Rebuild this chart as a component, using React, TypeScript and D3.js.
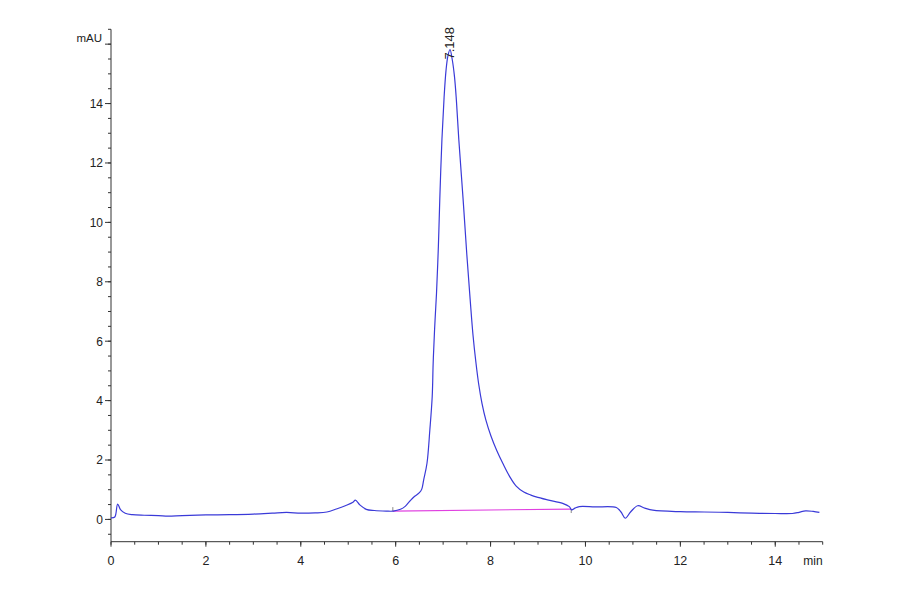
import React from "react";
import * as d3 from "d3";

const times = [0.0, 0.08, 0.14, 0.2, 0.3, 0.45, 0.7, 1.0, 1.2, 1.5, 2.0, 2.5, 3.0, 3.4, 3.7, 4.0, 4.3, 4.55, 4.75, 4.95, 5.1, 5.15, 5.25, 5.38, 5.55, 5.8, 5.95, 6.1, 6.2, 6.3, 6.4, 6.5, 6.55, 6.59, 6.66, 6.72, 6.77, 6.79, 6.82, 6.86, 6.9, 6.93, 6.975, 7.02, 7.06, 7.1, 7.145, 7.19, 7.24, 7.28, 7.33, 7.42, 7.5, 7.57, 7.63, 7.69, 7.75, 7.82, 7.9, 8.01, 8.13, 8.26, 8.4, 8.54, 8.7, 8.85, 8.96, 9.2, 9.52, 9.66, 9.71, 9.78, 9.87, 10.2, 10.65, 10.75, 10.84, 10.95, 11.1, 11.25, 11.42, 12.0, 12.5, 13.0, 13.5, 14.0, 14.36, 14.5, 14.64, 14.8, 14.93];
const signal = [0.05, 0.08, 0.52, 0.33, 0.21, 0.16, 0.14, 0.13, 0.11, 0.13, 0.15, 0.16, 0.18, 0.21, 0.235, 0.21, 0.22, 0.25, 0.35, 0.47, 0.58, 0.65, 0.48, 0.34, 0.3, 0.28, 0.28, 0.34, 0.44, 0.62, 0.78, 0.9, 1.02, 1.33, 1.89, 3.01, 4.14, 5.26, 6.4, 7.6, 9.2, 10.8, 12.8, 14.2, 15.1, 15.6, 15.82, 15.5, 14.9, 14.1, 12.8, 10.8, 8.9, 7.4, 6.2, 5.3, 4.55, 3.9, 3.35, 2.8, 2.32, 1.88, 1.45, 1.12, 0.92, 0.82, 0.76, 0.66, 0.54, 0.43, 0.32, 0.38, 0.43, 0.42, 0.4, 0.25, 0.04, 0.25, 0.46, 0.38, 0.31, 0.26, 0.25, 0.235, 0.21, 0.2, 0.2, 0.24, 0.29, 0.27, 0.235];

const baselineTimes = [5.94, 9.7];
const baselineValues = [0.28, 0.35];

const peakTime = 7.148;
const peakValue = 15.82;
const peakLabel = "7.148";

const xMajorTicks = [0, 2, 4, 6, 8, 10, 12, 14];
const yMajorTicks = [0, 2, 4, 6, 8, 10, 12, 14];
const yUnlabeledMajor = [16];

export default function App() {
  const x = d3.scaleLinear().domain([0, 15]).range([111, 822.7]);
  const y = d3.scaleLinear().domain([-0.75, 16.5]).range([541.7, 29.3]);

  const pts = times.map((t, i) => [t, signal[i]] as [number, number]);
  const line = d3
    .line<[number, number]>()
    .x((d) => x(d[0]))
    .y((d) => y(d[1]))
    .curve(d3.curveCatmullRom.alpha(0.5));

  const xMinor = d3.range(0, 15.001, 0.5);
  const yMinor = d3.range(-0.5, 16.501, 0.5);
  const font = "'Liberation Sans', Arial, sans-serif";
  const axisColor = "#333";

  return (
    <svg
      width={900}
      height={594}
      style={{ position: "fixed", left: 0, top: 0, background: "#fff" }}
    >
      <rect x={0} y={0} width={900} height={594} fill="#fff" />
      {/* Y axis */}
      <line x1={x(0)} x2={x(0)} y1={y(16.5)} y2={y(-0.75)} stroke={axisColor} strokeWidth={1} />
      {yMinor.map((v) => (
        <line key={"ym" + v} x1={x(0) - 3} x2={x(0)} y1={y(v)} y2={y(v)} stroke={axisColor} strokeWidth={1} />
      ))}
      {yMajorTicks.concat(yUnlabeledMajor).map((v) => (
        <line key={"yM" + v} x1={x(0) - 6} x2={x(0)} y1={y(v)} y2={y(v)} stroke={axisColor} strokeWidth={1} />
      ))}
      {yMajorTicks.map((v) => (
        <text key={"yl" + v} x={x(0) - 8} y={y(v)} dy="0.36em" textAnchor="end" fontFamily={font} fontSize={12} fill="#222">
          {v}
        </text>
      ))}
      <text x={x(0) - 9} y={y(16)} dy="-0.2em" textAnchor="end" fontFamily={font} fontSize={11.5} fill="#222">
        mAU
      </text>

      {/* X axis */}
      <line x1={x(0)} x2={x(15)} y1={y(-0.75)} y2={y(-0.75)} stroke={axisColor} strokeWidth={1} />
      {xMinor.map((t) => (
        <line key={"xm" + t} x1={x(t)} x2={x(t)} y1={y(-0.75)} y2={y(-0.75) + 3} stroke={axisColor} strokeWidth={1} />
      ))}
      {xMajorTicks.map((t) => (
        <line key={"xM" + t} x1={x(t)} x2={x(t)} y1={y(-0.75)} y2={y(-0.75) + 5} stroke={axisColor} strokeWidth={1} />
      ))}
      {xMajorTicks.map((t) => (
        <text key={"xl" + t} x={x(t)} y={565} textAnchor="middle" fontFamily={font} fontSize={12.5} fill="#222">
          {t}
        </text>
      ))}
      <text x={x(15)} y={565} textAnchor="end" fontFamily={font} fontSize={12} fill="#222">
        min
      </text>

      {/* Baseline */}
      <line
        x1={x(baselineTimes[0])}
        x2={x(baselineTimes[1])}
        y1={y(baselineValues[0])}
        y2={y(baselineValues[1])}
        stroke="#e040e0"
        strokeWidth={1.2}
      />
      <line x1={x(baselineTimes[0])} x2={x(baselineTimes[0])} y1={y(baselineValues[0]) - 4} y2={y(baselineValues[0])} stroke="#888" strokeWidth={1} />
      <line x1={x(baselineTimes[1])} x2={x(baselineTimes[1])} y1={y(baselineValues[1])} y2={y(baselineValues[1]) + 4} stroke="#888" strokeWidth={1} />

      {/* Signal */}
      <path d={line(pts) || ""} fill="none" stroke="#3a3ad8" strokeWidth={1.2} />

      {/* Peak label */}
      <text
        transform={`translate(${x(peakTime) + 4},${y(peakValue) + 10}) rotate(-90)`}
        textAnchor="start"
        fontFamily={font}
        fontSize={13}
        fill="#222"
      >
        {peakLabel}
      </text>
    </svg>
  );
}
